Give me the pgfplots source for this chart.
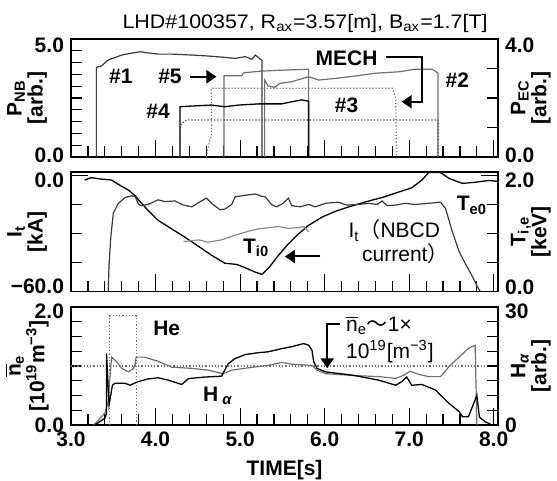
\documentclass[border=0pt]{standalone}
\usepackage{graphicx}
\usepackage{pgfplots}
\pgfplotsset{compat=1.18}
\usepackage{fontspec}
\setmainfont{Liberation Sans}
\newfontfamily\cjk{Noto Sans CJK JP}
\usetikzlibrary{arrows.meta}
\definecolor{dgray}{HTML}{3A3A3A}
\definecolor{mgray}{HTML}{6E6E6E}
\definecolor{lgray}{HTML}{8A8A8A}
\newcommand{\lbl}{\fontsize{10.5}{10.5}\selectfont\bfseries}
\newcommand{\txt}{\fontsize{10.5}{11}\selectfont}

\tikzset{arr/.style={-{Triangle[length=5pt,width=6.5pt]}, line width=1pt}}
\pgfplotsset{
  common/.style={
    scale only axis, width=213.5pt,
    xmin=3, xmax=8.05,
    axis line style={line width=0.8pt},
    tick align=inside,
    major tick length=8.5pt, minor tick length=5.3pt,
    every tick/.style={black, line width=0.6pt},
    tick label style={font=\lbl},
    yticklabel=\empty,
    extra y tick style={tick style={draw=none}},
  },
  panel/.style={common,
    xtick pos=left, ytick pos=left,
    xtick={3,4,...,8}, minor xtick={3.2,3.4,...,7.9},
    ylabel style={font=\lbl, align=center, at={(axis description cs:-0.103,0.5)}, anchor=center},
    clip mode=individual,
  },
  rside/.style={common,
    axis x line=none, axis y line*=right,
    ylabel style={font=\lbl, align=center, at={(axis description cs:1.077,0.5)}, anchor=center},
  },
}

\begin{document}
\begin{tikzpicture}
\path[use as bounding box] (-35.5pt,-28pt) rectangle (243pt,212.5pt);

% ---------- top: heating powers
\begin{axis}[panel, at={(0,134pt)}, height=59pt, ymin=0, ymax=5,
  ytick={0,5}, minor ytick={0.5,1,...,4.5},
  extra y ticks={0.08,4.75}, extra y tick labels={0.0,5.0},
  xticklabel=\empty,
  ylabel={P\textsubscript{NB}\\{}[arb.]}]
% NB #1
\addplot[dgray, line width=0.6pt] coordinates {
 (3.30,0) (3.30,3.80) (3.36,3.86) (3.44,4.11) (3.60,4.32) (3.70,4.39) (3.82,4.46)
 (3.89,4.42) (4.03,4.36) (4.19,4.36) (4.43,4.32) (4.62,4.28) (4.82,4.22) (4.94,4.18)
 (5.06,4.25) (5.14,4.14) (5.18,4.32) (5.24,4.14) (5.26,4.10) (5.26,0)};
% NB #5
\addplot[mgray, line width=0.6pt] coordinates {
 (4.81,0) (4.81,3.44) (5.02,3.44) (5.04,3.57) (5.26,3.64) (5.50,3.68) (5.81,3.72) (5.81,0)};
% NB #2
\addplot[mgray, line width=0.6pt] coordinates {
 (5.29,0) (5.29,3.26) (5.33,3.01) (5.41,2.95) (5.47,3.12) (5.61,3.19) (5.81,3.40)
 (5.93,3.26) (6.13,3.33) (6.36,3.43) (6.60,3.55) (6.88,3.61) (7.07,3.72) (7.27,3.72)
 (7.32,3.61) (7.34,3.55) (7.34,0)};
% NB #4
\addplot[black, line width=0.65pt] coordinates {
 (4.29,0) (4.29,2.13) (4.43,2.16) (4.66,2.20) (4.82,2.13) (4.98,2.20) (5.22,2.25)
 (5.49,2.25) (5.61,2.34) (5.73,2.42) (5.80,2.37) (5.81,2.37) (5.81,0)};
% dotted traces
\addplot[mgray, densely dotted, line width=0.6pt] coordinates {
 (4.60,0) (4.64,0.72) (4.66,0.85) (4.66,2.91) (6.80,2.91) (6.84,2.50) (6.85,0)};
\addplot[dgray, densely dotted, line width=0.6pt] coordinates {
 (4.29,0) (4.29,1.28) (4.31,1.43) (4.35,1.54) (4.39,1.57) (7.34,1.57) (7.34,0)};
\node[font=\lbl] at (axis cs:3.59,3.40) {\#1};
\node[font=\lbl] at (axis cs:4.17,3.40) {\#5};
\draw[arr] (axis cs:4.41,3.40) -- (axis cs:4.72,3.40);
\node[font=\lbl] at (axis cs:4.03,1.92) {\#4};
\node[font=\lbl] at (axis cs:6.26,2.20) {\#3};
\node[font=\lbl] at (axis cs:6.26,4.18) {MECH};
\draw[arr] (axis cs:6.72,4.25) -- (axis cs:7.15,4.25) -- (axis cs:7.15,2.34) -- (axis cs:6.91,2.34);
\node[font=\lbl] at (axis cs:7.57,3.26) {\#2};
\end{axis}
\begin{axis}[rside, at={(0,134pt)}, height=59pt, ymin=0, ymax=4,
  ytick={0,4}, minor ytick={1,2,3},
  extra y ticks={0.07,3.8}, extra y tick labels={0.0,4.0},
  ylabel={P\textsubscript{EC}\\{}[arb.]}]
\end{axis}

% ---------- middle: current and temperatures
\begin{axis}[panel, at={(0,66.75pt)}, height=59.75pt, ymin=-60, ymax=1.8,
  ytick={-60,0}, minor ytick={-45,-30,-15},
  extra y ticks={-57.5,-2.3}, extra y tick labels={−60.0,0.0},
  xticklabel=\empty,
  ylabel={I\textsubscript{t}\\{}[kA]}]
\addplot[black, line width=0.65pt] coordinates {
 (3.16,-2.35) (3.24,-1.1) (3.34,-1.8) (3.48,-2.35) (3.56,-4.6) (3.68,-7.6) (3.76,-10.5)
 (3.82,-13.7) (3.91,-18.0) (4.03,-23.2) (4.19,-27.6) (4.35,-32.0) (4.51,-36.7)
 (4.66,-41.2) (4.82,-45.4) (4.96,-46.0) (5.06,-47.7) (5.18,-50.0) (5.26,-51.2)
 (5.34,-47.7) (5.45,-41.5) (5.57,-35.4) (5.69,-30.2) (5.81,-25.8) (5.97,-21.5)
 (6.13,-18.5) (6.28,-16.3) (6.48,-13.7) (6.68,-11.4) (6.88,-8.5) (7.03,-6.4)
 (7.15,-2.35) (7.23,1.5) (7.37,1.5) (7.47,-1.5) (7.63,-4.1) (7.78,-3.5) (7.94,-2.6) (8.04,-3.0)};
\node[font=\lbl, anchor=west] at (axis cs:7.48,-15.4) {T\textsubscript{e0}};
\node[font=\txt, anchor=west] at (axis cs:6.20,-28.5) {I\textsubscript{t}{\cjk （}NBCD};
\node[font=\txt, anchor=west] at (axis cs:6.36,-40.6) {current{\cjk ）}};
\draw[arr] (axis cs:5.95,-41.9) -- (axis cs:5.53,-41.9);
\node[font=\lbl] at (axis cs:5.19,-37.4) {T\textsubscript{i0}};
\end{axis}
\begin{axis}[rside, at={(0,66.75pt)}, height=59.75pt, ymin=0, ymax=2.06,
  ytick={0,2}, minor ytick={0.5,1,1.5},
  extra y ticks={0.08,1.92}, extra y tick labels={0.0,2.0},
  ylabel={T\textsubscript{i,e}\\{}[keV]}]
% Te0
\addplot[dgray, line width=0.6pt] coordinates {
 (3.44,0) (3.45,0.46) (3.47,0.92) (3.50,1.35) (3.56,1.52) (3.64,1.62) (3.72,1.65)
 (3.76,1.63) (3.80,1.50) (3.83,1.48) (3.91,1.50) (4.03,1.58) (4.11,1.55) (4.23,1.56)
 (4.33,1.49) (4.43,1.46) (4.53,1.55) (4.60,1.61) (4.68,1.50) (4.76,1.41) (4.82,1.42)
 (4.90,1.50) (4.94,1.63) (5.06,1.66) (5.18,1.68) (5.26,1.64) (5.30,1.63) (5.37,1.50)
 (5.43,1.46) (5.51,1.52) (5.57,1.61) (5.61,1.48) (5.71,1.46) (5.81,1.50) (5.89,1.46)
 (6.01,1.52) (6.16,1.54) (6.26,1.49) (6.40,1.50) (6.52,1.52) (6.62,1.50) (6.68,1.56)
 (6.74,1.48) (6.84,1.49) (6.95,1.52) (7.07,1.50) (7.23,1.52) (7.37,1.54) (7.43,1.43)
 (7.51,1.03) (7.59,0.69) (7.67,0.46) (7.74,0.28) (7.80,0.10) (7.84,0)};
% Ti0
\addplot[lgray, line width=0.6pt] coordinates {
 (4.33,0.86) (4.51,0.89) (4.62,0.85) (4.78,0.89) (4.94,0.97) (5.10,1.04) (5.22,1.08)
 (5.34,1.10) (5.45,1.12) (5.57,1.09) (5.69,1.10) (5.75,1.12) (5.81,1.03)};
\end{axis}

% ---------- bottom: density and H-alpha
\begin{axis}[panel, at={(0,0)}, height=59pt, ymin=0, ymax=2,
  ytick={0,2}, minor ytick={0.25,0.5,...,1.75},
  extra y ticks={0,1.93}, extra y tick labels={0.0,2.0},
  xticklabels={3.0,4.0,5.0,6.0,7.0,8.0},
  xlabel={TIME[s]}, xlabel style={font=\lbl},
  ylabel={$\overline{\mbox{n}}$\textsubscript{e}\\{}[10\textsuperscript{19}m\textsuperscript{−3}]}]
\addplot[mgray, densely dotted, line width=0.6pt] coordinates {(3,1) (8.05,1)};
\addplot[mgray, densely dotted, line width=0.6pt] coordinates {(3.46,0) (3.46,1.85) (3.77,1.85) (3.77,0)};
\addplot[mgray, line width=0.6pt] coordinates {
 (3.27,0) (3.40,0.20) (3.44,0.40) (3.46,0.80) (3.48,1.15) (3.54,1.07) (3.60,0.96)
 (3.68,0.90) (3.74,0.96) (3.76,1.04) (3.77,1.15) (3.87,1.15) (4.03,1.08) (4.19,0.98)
 (4.43,0.96) (4.62,0.93) (4.80,0.87) (4.90,0.93) (5.10,0.97) (5.33,1.01) (5.49,1.06)
 (5.61,1.03) (5.85,1.01) (5.91,0.93) (6.01,0.87) (6.32,0.84) (6.64,0.82) (6.84,0.79)
 (6.93,0.84) (7.01,0.91) (7.11,0.86) (7.23,0.82) (7.37,0.82) (7.47,0.99) (7.59,1.15)
 (7.70,1.30) (7.78,1.35) (7.80,0)};
\node[font=\lbl, anchor=west] at (axis cs:3.89,1.63) {He};
\node[font=\lbl, anchor=west] at (axis cs:4.48,0.50) {H\hspace{2pt}\textsubscript{\itshape α}};
\node[font=\txt, anchor=west] at (axis cs:6.17,1.69) {$\overline{\mbox{n}}$\textsubscript{e}{\cjk ～}1×};
\node[font=\txt, anchor=west] at (axis cs:6.17,1.24) {10\textsuperscript{19}[m\textsuperscript{−3}]};
\draw[arr] (axis cs:6.18,1.72) -- (axis cs:6.03,1.72) -- (axis cs:6.03,0.96);
\end{axis}
\begin{axis}[rside, at={(0,0)}, height=59pt, ymin=0, ymax=30,
  ytick={0,30}, minor ytick={3.75,7.5,11.25,15,18.75,22.5,26.25},
  extra y ticks={0,28.9}, extra y tick labels={0,30},
  ylabel={H\textsubscript{\itshape α}\\{}[arb.]}]
\addplot[black, line width=0.65pt] coordinates {
 (3.28,0) (3.40,1.7) (3.42,3.0) (3.42,18.2) (3.45,5.1) (3.49,10.1) (3.52,10.6)
 (3.64,10.6) (3.70,10.1) (3.79,11.0) (3.91,11.7) (4.03,12.0) (4.15,11.4) (4.31,10.3)
 (4.39,11.8) (4.59,12.2) (4.78,12.4) (4.86,15.6) (4.94,16.9) (5.06,17.9) (5.22,18.4)
 (5.33,18.6) (5.49,19.4) (5.61,19.9) (5.75,20.7) (5.81,20.3) (5.85,19.0) (5.87,16.1)
 (5.91,14.4) (6.01,13.5) (6.32,12.7) (6.64,11.4) (6.84,10.1) (6.91,11.0) (6.97,12.2)
 (7.03,10.1) (7.15,10.3) (7.31,8.9) (7.37,7.6) (7.47,5.5) (7.59,3.4) (7.63,2.1)
 (7.70,2.1) (7.80,7.5) (7.83,2.0) (7.90,0.8) (7.98,0)};
\end{axis}

\node[anchor=base east, inner sep=0pt] at (208.5pt,198pt)
  {\resizebox{182.5pt}{7.1pt}{\fontsize{10}{11}\selectfont LHD\#100357, R\textsubscript{ax}=3.57[m], B\textsubscript{ax}=1.7[T]}};
\end{tikzpicture}
\end{document}
